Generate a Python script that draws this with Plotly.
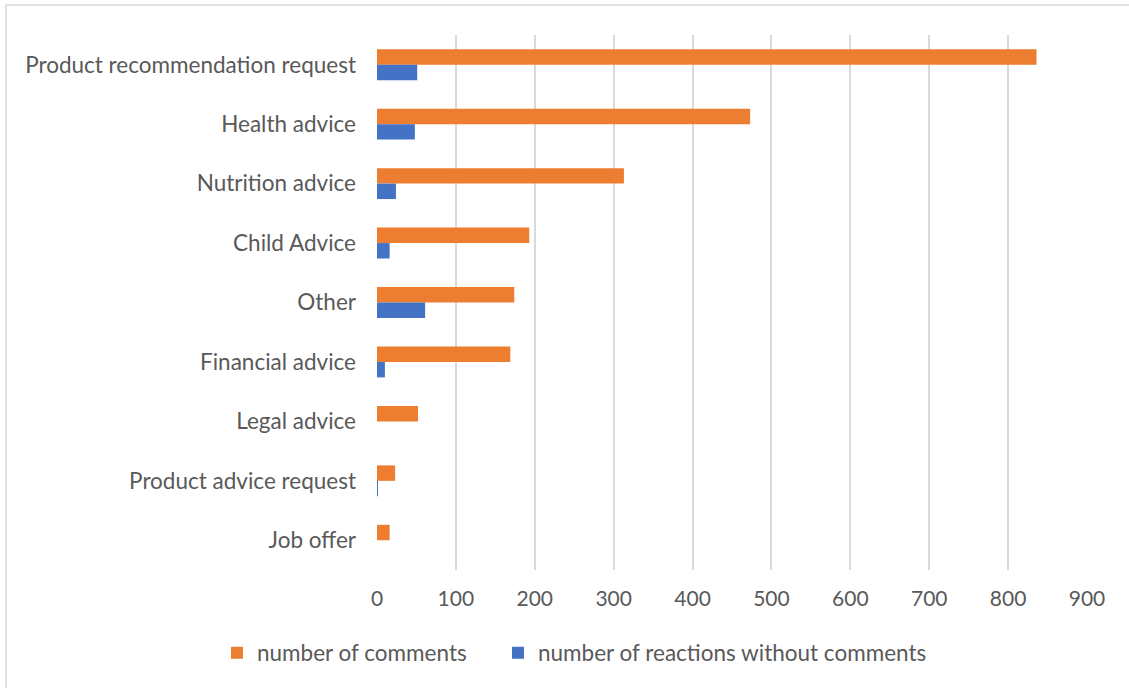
import plotly.graph_objects as go

categories = ["Product recommendation request", "Health advice", "Nutrition advice",
              "Child Advice", "Other", "Financial advice", "Legal advice",
              "Product advice request", "Job offer"]
comments = [836, 473, 313, 193, 174, 169, 52, 23, 16]
reactions = [51, 48, 24, 16, 61, 10, 0, 1, 0]
x_ticks = [0, 100, 200, 300, 400, 500, 600, 700, 800, 900]

W, H = 1129, 688
ml, mr, mt, mb = 377, 42, 35, 118
pw, ph = W - ml - mr, H - mt - mb

fig = go.Figure()
fig.add_trace(go.Bar(y=categories, x=comments, orientation="h", name="number of comments",
                     marker=dict(color="#ED7D31", line=dict(width=0)), legend="legend"))
fig.add_trace(go.Bar(y=categories, x=reactions, orientation="h",
                     name="number of reactions without comments",
                     marker=dict(color="#4472C4", line=dict(width=0)), legend="legend2"))

font = dict(family="Lato, Open Sans, sans-serif", size=22.5, color="#595959")
tick_font = dict(family="Lato, Open Sans, sans-serif", size=21, color="#595959")

leg_common = dict(orientation="h", xanchor="left", y=-0.115, yanchor="top",
                  font=font, itemwidth=30, bgcolor="rgba(0,0,0,0)")

fig.update_layout(
    width=W, height=H,
    margin=dict(l=ml, r=mr, t=mt, b=mb, autoexpand=False),
    paper_bgcolor="white", plot_bgcolor="white",
    barmode="group", bargap=0.48, bargroupgap=0,
    font=font,
    xaxis=dict(range=[0, 900], tickvals=x_ticks, showgrid=True, gridcolor="#D9D9D9",
               gridwidth=1.5, zeroline=False, showline=False, ticks="",
               tickfont=tick_font, ticklabelstandoff=14, automargin=False),
    yaxis=dict(autorange="reversed", showgrid=False, showline=False, ticks="",
               tickfont=font, ticklabelstandoff=20, automargin=False),
    legend=dict(x=(217 - ml) / pw, **leg_common),
    legend2=dict(x=(498 - ml) / pw, **leg_common),
    showlegend=True,
    shapes=[dict(type="rect", xref="paper", yref="paper",
                 x0=(6 - ml) / pw, x1=(W + 20 - ml) / pw,
                 y0=(H - (H + 20) - mb) / ph, y1=(H - 5 - mb) / ph,
                 line=dict(color="#D9D9D9", width=1.5), fillcolor="rgba(0,0,0,0)",
                 layer="below")],
)

fig.write_html("out.html")
